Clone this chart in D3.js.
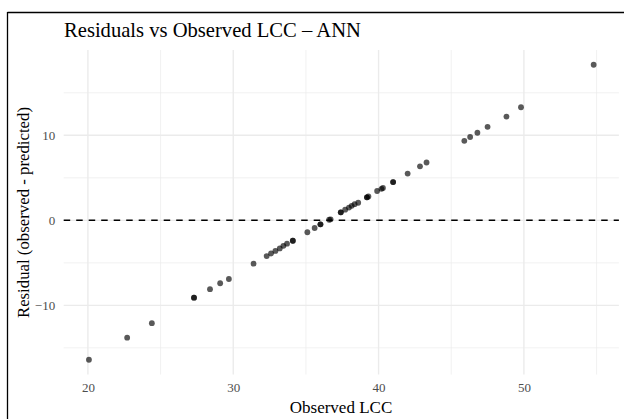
<!DOCTYPE html>
<html>
<head>
<meta charset="utf-8">
<script src="https://cdn.jsdelivr.net/npm/d3@7"></script>
<style>
html,body{margin:0;padding:0;background:#fff;}
svg{display:block;font-family:"Liberation Serif","DejaVu Serif",serif;}
</style>
</head>
<body>
<svg id="chart" width="624" height="419"></svg>
<script>
// Observed LCC values
const observed = [20.07, 22.7, 24.4, 27.3, 27.3, 28.4, 29.1, 29.7, 31.4, 32.3, 32.6, 32.9, 33.2, 33.45, 33.7,
  34.1, 34.1, 35.1, 35.6, 36.0, 36.0, 36.6, 36.7, 37.4, 37.4, 37.7, 37.96, 38.15, 38.35, 38.6,
  39.2, 39.2, 39.3, 39.9, 40.2, 40.3, 41.0, 41.0, 42.0, 42.85, 43.3, 45.9, 46.3, 46.8, 47.5, 48.8, 49.8, 54.8];
// Residuals (observed - predicted)
const residual = [-16.4, -13.8, -12.1, -9.1, -9.1, -8.1, -7.4, -6.9, -5.1, -4.2, -3.9, -3.6, -3.3, -3.0, -2.75,
  -2.4, -2.4, -1.4, -0.9, -0.47, -0.47, 0.07, 0.12, 0.94, 0.94, 1.25, 1.5, 1.7, 1.9, 2.07,
  2.7, 2.7, 2.8, 3.45, 3.7, 3.8, 4.5, 4.5, 5.5, 6.35, 6.8, 9.35, 9.8, 10.3, 11.0, 12.2, 13.3, 18.3];
const xMajor = [20, 30, 40, 50];
const xMinor = [25, 35, 45, 55];
const yMajor = [-10, 0, 10];
const yMinor = [-15, -5, 5, 15];
const titleText = "Residuals vs Observed LCC \u2013 ANN";
const xLabel = "Observed LCC";
const yLabel = "Residual (observed - predicted)";

const svg = d3.select("#chart");
const panel = {left: 63.7, right: 618.9, top: 50, bottom: 374.5};

function expand(ext) { const r = ext[1] - ext[0]; return [ext[0] - 0.05 * r, ext[1] + 0.05 * r]; }
const x = d3.scaleLinear().domain(expand(d3.extent(observed))).range([panel.left, panel.right]);
const y = d3.scaleLinear().domain(expand(d3.extent(residual))).range([panel.bottom, panel.top]);

// outer border (top & left)
svg.append("line").attr("x1", 7.5).attr("x2", 624).attr("y1", 12.5).attr("y2", 12.5).attr("stroke", "#000").attr("stroke-width", 1.3);
svg.append("line").attr("x1", 7.5).attr("x2", 7.5).attr("y1", 12).attr("y2", 419).attr("stroke", "#000").attr("stroke-width", 1.3);

const grid = svg.append("g");
grid.selectAll(".xmin").data(xMinor.filter(v => x(v) <= panel.right)).join("line")
  .attr("x1", d => x(d)).attr("x2", d => x(d)).attr("y1", panel.top).attr("y2", panel.bottom)
  .attr("stroke", "#ebebeb").attr("stroke-width", 0.7);
grid.selectAll(".ymin").data(yMinor).join("line")
  .attr("x1", panel.left).attr("x2", panel.right).attr("y1", d => y(d)).attr("y2", d => y(d))
  .attr("stroke", "#ebebeb").attr("stroke-width", 0.7);
grid.selectAll(".xmaj").data(xMajor).join("line")
  .attr("x1", d => x(d)).attr("x2", d => x(d)).attr("y1", panel.top).attr("y2", panel.bottom)
  .attr("stroke", "#ebebeb").attr("stroke-width", 1.4);
grid.selectAll(".ymaj").data(yMajor).join("line")
  .attr("x1", panel.left).attr("x2", panel.right).attr("y1", d => y(d)).attr("y2", d => y(d))
  .attr("stroke", "#ebebeb").attr("stroke-width", 1.4);

// zero reference line
svg.append("line").attr("x1", panel.left).attr("x2", panel.right).attr("y1", y(0)).attr("y2", y(0))
  .attr("stroke", "#000").attr("stroke-width", 1.5).attr("stroke-dasharray", "6.5,6");

// points
svg.append("g").selectAll("circle").data(observed.map((v, i) => [v, residual[i]])).join("circle")
  .attr("cx", d => x(d[0])).attr("cy", d => y(d[1])).attr("r", 2.9)
  .attr("fill", "#000").attr("fill-opacity", 0.65);

// axes tick labels
const xAxis = d3.axisBottom(x).tickValues(xMajor).tickSize(0).tickPadding(0);
const gx = svg.append("g").attr("transform", `translate(0,${panel.bottom})`).call(xAxis);
gx.select(".domain").remove();
gx.selectAll("text").attr("dy", null).attr("y", 17).attr("fill", "#4d4d4d")
  .attr("font-size", 13).attr("font-family", "Liberation Serif");

const yAxis = d3.axisLeft(y).tickValues(yMajor).tickSize(0).tickPadding(0);
const gy = svg.append("g").attr("transform", `translate(${panel.left},0)`).call(yAxis);
gy.select(".domain").remove();
gy.selectAll("text").attr("x", -8.5).attr("fill", "#4d4d4d")
  .attr("font-size", 13).attr("font-family", "Liberation Serif");

// titles
svg.append("text").attr("x", 64).attr("y", 37).attr("font-size", 20.6).attr("fill", "#000").text(titleText);
svg.append("text").attr("x", 341).attr("y", 413).attr("text-anchor", "middle")
  .attr("font-size", 17).attr("fill", "#000").text(xLabel);
svg.append("text").attr("transform", `translate(28.5,212.5) rotate(-90)`)
  .attr("text-anchor", "middle").attr("font-size", 16.8).attr("fill", "#000").text(yLabel);
</script>
</body>
</html>
